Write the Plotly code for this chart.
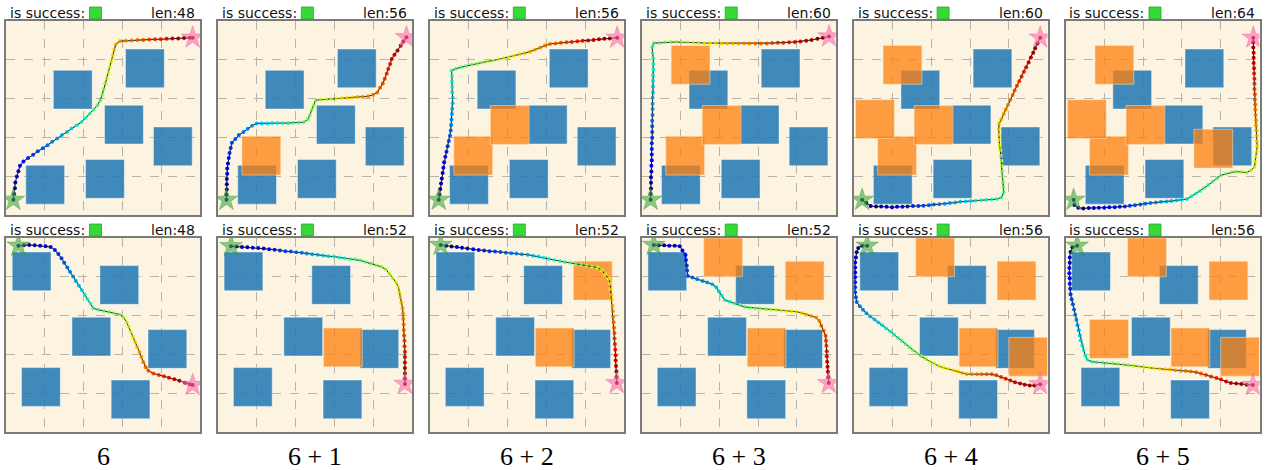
import plotly.graph_objects as go

# ---- data (grid units, 0..5 per panel) ----
blue_top = [(1.22, 2.73), (3.08, 3.28), (2.54, 1.83), (3.80, 1.27), (0.51, 0.28), (2.05, 0.43)]
orange_top = [(0.62, 1.03), (1.56, 1.82), (0.76, 3.37), (0.05, 1.97), (3.31, 1.21)]
blue_bottom = [(0.16, 3.64), (2.42, 3.29), (1.70, 1.96), (3.66, 1.64), (0.40, 0.66), (2.71, 0.34)]
orange_bottom = [(2.72, 1.68), (3.70, 3.40), (1.60, 4.00), (4.00, 1.44), (0.62, 1.90)]
obstacle_size = 1.0

n_extra = [0, 1, 2, 3, 4, 5]
column_labels = ["6", "6 + 1", "6 + 2", "6 + 3", "6 + 4", "6 + 5"]
len_top = [48, 56, 56, 60, 60, 64]
len_bottom = [48, 52, 52, 52, 56, 56]

t1_x = [0.19, 0.21, 0.23, 0.24, 0.28, 0.32, 0.36, 0.45, 0.57, 0.70, 0.82, 0.95, 1.07, 1.19, 1.32, 1.44, 1.57,
        1.69, 1.82, 1.95, 2.05, 2.16, 2.26, 2.36, 2.43, 2.48, 2.52, 2.56, 2.60, 2.64, 2.68, 2.71, 2.75, 2.79,
        2.83, 2.94, 3.09, 3.24, 3.39, 3.54, 3.69, 3.84, 3.99, 4.14, 4.29, 4.44, 4.59, 4.74, 4.81]
t1_y = [0.39, 0.54, 0.69, 0.84, 0.99, 1.13, 1.27, 1.38, 1.47, 1.55, 1.64, 1.72, 1.80, 1.89, 1.97, 2.06, 2.14,
        2.23, 2.31, 2.40, 2.50, 2.61, 2.71, 2.83, 2.96, 3.10, 3.24, 3.39, 3.53, 3.68, 3.82, 3.97, 4.11, 4.26,
        4.40, 4.48, 4.49, 4.50, 4.51, 4.51, 4.52, 4.53, 4.53, 4.54, 4.55, 4.55, 4.56, 4.57, 4.57]

t2_x = [0.22, 0.22, 0.23, 0.23, 0.23, 0.24, 0.24, 0.26, 0.28, 0.30, 0.33, 0.36, 0.45, 0.54, 0.66, 0.77, 0.88,
        1.00, 1.13, 1.27, 1.40, 1.54, 1.67, 1.81, 1.94, 2.08, 2.21, 2.32, 2.37, 2.42, 2.47, 2.52, 2.65, 2.79,
        2.92, 3.06, 3.19, 3.33, 3.46, 3.60, 3.73, 3.87, 4.00, 4.11, 4.18, 4.25, 4.30, 4.35, 4.39, 4.44, 4.48,
        4.55, 4.63, 4.71, 4.78, 4.86]
t2_y = [0.39, 0.52, 0.66, 0.79, 0.93, 1.06, 1.20, 1.33, 1.47, 1.60, 1.73, 1.86, 1.96, 2.06, 2.14, 2.22, 2.30,
        2.36, 2.36, 2.36, 2.37, 2.37, 2.37, 2.37, 2.38, 2.38, 2.39, 2.46, 2.58, 2.71, 2.83, 2.96, 2.97, 2.98,
        2.99, 3.00, 3.01, 3.02, 3.03, 3.04, 3.05, 3.06, 3.10, 3.16, 3.28, 3.39, 3.51, 3.64, 3.76, 3.89, 4.02,
        4.13, 4.24, 4.36, 4.47, 4.58]

t3_x = [0.23, 0.25, 0.27, 0.29, 0.31, 0.33, 0.35, 0.37, 0.40, 0.43, 0.46, 0.49, 0.52, 0.54, 0.55, 0.56, 0.57,
        0.58, 0.59, 0.59, 0.58, 0.58, 0.57, 0.57, 0.56, 0.67, 0.81, 0.94, 1.08, 1.22, 1.35, 1.49, 1.63, 1.77,
        1.90, 2.04, 2.17, 2.31, 2.44, 2.58, 2.71, 2.84, 2.97, 3.10, 3.24, 3.38, 3.52, 3.66, 3.80, 3.94, 4.08,
        4.22, 4.36, 4.50, 4.64, 4.83]
t3_y = [0.39, 0.53, 0.67, 0.81, 0.94, 1.08, 1.22, 1.36, 1.50, 1.63, 1.77, 1.91, 2.04, 2.18, 2.32, 2.46, 2.60,
        2.74, 2.88, 3.02, 3.16, 3.30, 3.44, 3.58, 3.72, 3.77, 3.81, 3.84, 3.88, 3.90, 3.93, 3.96, 3.98, 4.01,
        4.04, 4.07, 4.10, 4.14, 4.17, 4.21, 4.26, 4.31, 4.37, 4.41, 4.42, 4.44, 4.45, 4.46, 4.48, 4.49, 4.50,
        4.51, 4.53, 4.54, 4.55, 4.57]

t4_x = [0.23, 0.23, 0.24, 0.24, 0.24, 0.25, 0.25, 0.26, 0.26, 0.26, 0.26, 0.27, 0.27, 0.27, 0.27, 0.28, 0.28,
        0.28, 0.28, 0.29, 0.29, 0.29, 0.29, 0.30, 0.30, 0.30, 0.28, 0.27, 0.31, 0.46, 0.60, 0.75, 0.89, 1.04,
        1.18, 1.33, 1.47, 1.62, 1.76, 1.91, 2.06, 2.20, 2.35, 2.49, 2.64, 2.78, 2.93, 3.07, 3.22, 3.36, 3.51,
        3.65, 3.80, 3.95, 4.09, 4.24, 4.38, 4.53, 4.67, 4.83]
t4_y = [0.39, 0.54, 0.68, 0.83, 0.97, 1.12, 1.27, 1.41, 1.56, 1.70, 1.85, 1.99, 2.14, 2.29, 2.43, 2.58, 2.73,
        2.87, 3.02, 3.16, 3.31, 3.46, 3.60, 3.75, 3.89, 4.04, 4.18, 4.33, 4.43, 4.44, 4.45, 4.46, 4.46, 4.45,
        4.45, 4.44, 4.44, 4.43, 4.43, 4.43, 4.42, 4.42, 4.42, 4.42, 4.42, 4.42, 4.42, 4.42, 4.42, 4.43, 4.44,
        4.44, 4.45, 4.46, 4.47, 4.49, 4.51, 4.54, 4.57, 4.60]

t5_x = [0.22, 0.33, 0.44, 0.58, 0.71, 0.85, 0.99, 1.12, 1.26, 1.39, 1.53, 1.67, 1.80, 1.94, 2.07, 2.21, 2.35,
        2.48, 2.62, 2.75, 2.89, 3.02, 3.15, 3.29, 3.42, 3.56, 3.70, 3.81, 3.87, 3.86, 3.85, 3.84, 3.83, 3.82,
        3.81, 3.79, 3.78, 3.76, 3.75, 3.74, 3.74, 3.75, 3.81, 3.87, 3.92, 3.98, 4.04, 4.10, 4.15, 4.21, 4.27,
        4.33, 4.39, 4.45, 4.51, 4.57, 4.63, 4.68, 4.74, 4.81]
t5_y = [0.39, 0.31, 0.23, 0.22, 0.22, 0.21, 0.20, 0.21, 0.21, 0.22, 0.23, 0.23, 0.24, 0.25, 0.27, 0.28, 0.29,
        0.31, 0.32, 0.34, 0.35, 0.36, 0.37, 0.38, 0.39, 0.40, 0.41, 0.45, 0.58, 0.71, 0.85, 0.99, 1.12, 1.26,
        1.40, 1.53, 1.67, 1.80, 1.94, 2.07, 2.21, 2.35, 2.47, 2.60, 2.72, 2.84, 2.97, 3.09, 3.21, 3.33, 3.45,
        3.57, 3.69, 3.81, 3.93, 4.06, 4.18, 4.30, 4.42, 4.57]

t6_x = [0.21, 0.23, 0.33, 0.46, 0.60, 0.73, 0.86, 1.00, 1.13, 1.27, 1.40, 1.53, 1.66, 1.79, 1.93, 2.06, 2.19,
        2.33, 2.46, 2.60, 2.73, 2.86, 3.00, 3.13, 3.24, 3.36, 3.47, 3.58, 3.68, 3.79, 3.90, 4.00, 4.14, 4.27,
        4.40, 4.53, 4.66, 4.78, 4.87, 4.89, 4.91, 4.93, 4.94, 4.93, 4.93, 4.92, 4.91, 4.91, 4.90, 4.89, 4.89,
        4.88, 4.88, 4.87, 4.87, 4.87, 4.86, 4.86, 4.85, 4.85, 4.85, 4.84, 4.84, 4.84]
t6_y = [0.39, 0.26, 0.19, 0.17, 0.18, 0.18, 0.19, 0.19, 0.20, 0.20, 0.21, 0.22, 0.24, 0.25, 0.27, 0.29, 0.31,
        0.32, 0.34, 0.35, 0.36, 0.38, 0.39, 0.41, 0.48, 0.55, 0.62, 0.70, 0.77, 0.86, 0.94, 1.02, 1.06, 1.10,
        1.12, 1.11, 1.09, 1.15, 1.24, 1.37, 1.51, 1.64, 1.78, 1.91, 2.04, 2.18, 2.31, 2.44, 2.58, 2.71, 2.85,
        2.98, 3.11, 3.25, 3.38, 3.51, 3.65, 3.78, 3.92, 4.05, 4.18, 4.32, 4.45, 4.57]

b1_x = [0.32, 0.46, 0.60, 0.74, 0.88, 1.02, 1.15, 1.26, 1.35, 1.43, 1.50, 1.58, 1.65, 1.73, 1.80, 1.88, 1.95,
        2.03, 2.10, 2.18, 2.25, 2.38, 2.52, 2.66, 2.79, 2.93, 3.03, 3.11, 3.16, 3.22, 3.27, 3.33, 3.38, 3.44,
        3.49, 3.54, 3.60, 3.67, 3.80, 3.94, 4.07, 4.20, 4.34, 4.47, 4.61, 4.74, 4.81]
b1_y = [4.80, 4.81, 4.82, 4.81, 4.80, 4.79, 4.77, 4.69, 4.59, 4.48, 4.36, 4.24, 4.13, 4.01, 3.89, 3.77, 3.66,
        3.54, 3.42, 3.31, 3.19, 3.15, 3.12, 3.09, 3.06, 3.03, 2.95, 2.83, 2.71, 2.58, 2.45, 2.32, 2.19, 2.06,
        1.93, 1.80, 1.67, 1.58, 1.51, 1.47, 1.44, 1.40, 1.36, 1.32, 1.27, 1.23, 1.21]

b2_x = [0.34, 0.48, 0.62, 0.76, 0.90, 1.04, 1.18, 1.32, 1.46, 1.60, 1.74, 1.88, 2.02, 2.16, 2.29, 2.43, 2.57,
        2.71, 2.85, 2.99, 3.13, 3.27, 3.40, 3.54, 3.68, 3.81, 3.95, 4.08, 4.21, 4.33, 4.42, 4.50, 4.59, 4.65,
        4.68, 4.70, 4.73, 4.76, 4.77, 4.78, 4.79, 4.79, 4.80, 4.81, 4.81, 4.82, 4.82, 4.82, 4.82, 4.82, 4.82,
        4.82]
b2_y = [4.79, 4.78, 4.77, 4.76, 4.75, 4.74, 4.73, 4.71, 4.70, 4.68, 4.66, 4.65, 4.63, 4.62, 4.60, 4.58, 4.57,
        4.55, 4.53, 4.52, 4.50, 4.48, 4.46, 4.45, 4.42, 4.38, 4.34, 4.30, 4.26, 4.19, 4.08, 3.97, 3.86, 3.74,
        3.60, 3.47, 3.33, 3.19, 3.05, 2.91, 2.77, 2.63, 2.49, 2.35, 2.21, 2.07, 1.93, 1.79, 1.65, 1.51, 1.37,
        1.24]

b3_x = [0.28, 0.42, 0.56, 0.70, 0.83, 0.97, 1.12, 1.26, 1.40, 1.54, 1.68, 1.82, 1.96, 2.10, 2.23, 2.37, 2.52,
        2.66, 2.80, 2.93, 3.07, 3.21, 3.35, 3.48, 3.62, 3.76, 3.90, 4.04, 4.18, 4.32, 4.43, 4.52, 4.61, 4.65,
        4.66, 4.68, 4.69, 4.71, 4.72, 4.73, 4.74, 4.75, 4.76, 4.76, 4.77, 4.78, 4.79, 4.79, 4.80, 4.81, 4.81,
        4.82]
b3_y = [4.82, 4.80, 4.78, 4.77, 4.75, 4.73, 4.71, 4.69, 4.68, 4.66, 4.65, 4.64, 4.62, 4.61, 4.60, 4.58, 4.57,
        4.54, 4.52, 4.49, 4.46, 4.43, 4.41, 4.38, 4.36, 4.33, 4.31, 4.29, 4.26, 4.24, 4.17, 4.06, 3.95, 3.82,
        3.68, 3.54, 3.40, 3.25, 3.11, 2.97, 2.83, 2.69, 2.55, 2.41, 2.27, 2.12, 1.98, 1.84, 1.70, 1.56, 1.42,
        1.26]

b4_x = [0.31, 0.44, 0.58, 0.71, 0.85, 0.98, 1.05, 1.13, 1.14, 1.16, 1.17, 1.19, 1.31, 1.43, 1.57, 1.69, 1.82,
        1.92, 1.99, 2.07, 2.14, 2.27, 2.40, 2.53, 2.66, 2.79, 2.93, 3.06, 3.20, 3.33, 3.46, 3.60, 3.73, 3.86,
        3.99, 4.12, 4.24, 4.37, 4.50, 4.58, 4.63, 4.69, 4.74, 4.75, 4.76, 4.77, 4.77, 4.78, 4.79, 4.80, 4.81,
        4.82]
b4_y = [4.82, 4.81, 4.81, 4.80, 4.80, 4.79, 4.68, 4.56, 4.43, 4.29, 4.16, 4.02, 3.98, 3.94, 3.89, 3.85, 3.81,
        3.73, 3.62, 3.51, 3.40, 3.36, 3.31, 3.27, 3.22, 3.21, 3.19, 3.18, 3.17, 3.16, 3.15, 3.13, 3.12, 3.11,
        3.10, 3.07, 3.03, 2.99, 2.95, 2.86, 2.74, 2.61, 2.48, 2.35, 2.22, 2.08, 1.95, 1.81, 1.68, 1.55, 1.41,
        1.26]

b5_x = [0.35, 0.22, 0.12, 0.08, 0.06, 0.04, 0.04, 0.04, 0.04, 0.04, 0.04, 0.04, 0.06, 0.08, 0.16, 0.24, 0.33,
        0.43, 0.54, 0.64, 0.74, 0.84, 0.95, 1.04, 1.14, 1.24, 1.34, 1.44, 1.53, 1.63, 1.74, 1.86, 1.97, 2.08,
        2.19, 2.31, 2.43, 2.56, 2.68, 2.80, 2.92, 3.05, 3.18, 3.30, 3.43, 3.56, 3.68, 3.80, 3.92, 4.04, 4.16,
        4.29, 4.41, 4.54, 4.66, 4.81]
b5_y = [4.80, 4.80, 4.74, 4.63, 4.50, 4.37, 4.24, 4.11, 3.99, 3.86, 3.73, 3.60, 3.47, 3.35, 3.24, 3.15, 3.06,
        2.98, 2.90, 2.82, 2.75, 2.67, 2.59, 2.51, 2.43, 2.35, 2.26, 2.18, 2.10, 2.02, 1.95, 1.88, 1.82, 1.76,
        1.70, 1.66, 1.63, 1.59, 1.56, 1.52, 1.49, 1.49, 1.49, 1.49, 1.49, 1.49, 1.46, 1.42, 1.37, 1.33, 1.28,
        1.25, 1.22, 1.20, 1.20, 1.23]

b6_x = [0.30, 0.18, 0.13, 0.11, 0.11, 0.10, 0.10, 0.11, 0.11, 0.12, 0.13, 0.16, 0.19, 0.22, 0.25, 0.28, 0.31,
        0.34, 0.37, 0.39, 0.43, 0.47, 0.51, 0.56, 0.68, 0.81, 0.95, 1.08, 1.22, 1.35, 1.49, 1.62, 1.75, 1.89,
        2.02, 2.15, 2.29, 2.42, 2.56, 2.69, 2.83, 2.96, 3.10, 3.23, 3.37, 3.49, 3.62, 3.75, 3.89, 4.01, 4.14,
        4.26, 4.40, 4.53, 4.67, 4.83]
b6_y = [4.80, 4.76, 4.64, 4.50, 4.36, 4.23, 4.09, 3.96, 3.82, 3.69, 3.55, 3.42, 3.29, 3.16, 3.02, 2.89, 2.75,
        2.62, 2.49, 2.36, 2.23, 2.10, 1.97, 1.86, 1.81, 1.80, 1.79, 1.78, 1.77, 1.76, 1.74, 1.72, 1.71, 1.69,
        1.67, 1.66, 1.64, 1.63, 1.62, 1.61, 1.59, 1.58, 1.57, 1.56, 1.54, 1.51, 1.47, 1.43, 1.39, 1.35, 1.30,
        1.26, 1.25, 1.24, 1.22, 1.21]

paths_top = [(t1_x, t1_y), (t2_x, t2_y), (t3_x, t3_y), (t4_x, t4_y), (t5_x, t5_y), (t6_x, t6_y)]
paths_bottom = [(b1_x, b1_y), (b2_x, b2_y), (b3_x, b3_y), (b4_x, b4_y), (b5_x, b5_y), (b6_x, b6_y)]

# matplotlib-style "jet"
jet = [[0.0, "rgb(0,0,128)"], [0.11, "rgb(0,0,255)"], [0.125, "rgb(0,0,255)"], [0.34, "rgb(0,219,255)"],
       [0.35, "rgb(0,230,247)"], [0.375, "rgb(21,255,226)"], [0.64, "rgb(239,255,8)"],
       [0.65, "rgb(247,245,0)"], [0.66, "rgb(255,236,0)"], [0.89, "rgb(255,19,0)"],
       [0.91, "rgb(232,0,0)"], [1.0, "rgb(128,0,0)"]]

# ---- layout in pixels ----
W, H = 1267, 470
BOX = 194
lefts = [6, 217.9, 429.8, 641.7, 853.6, 1065.5]
row_tops = [21, 238]

BLUE = "rgba(31,119,180,0.85)"
ORANGE = "rgba(255,127,14,0.75)"
BG = "#fcf4e0"

fig = go.Figure()
shapes = []
annotations = []

rows = [(paths_top, blue_top, orange_top, len_top), (paths_bottom, blue_bottom, orange_bottom, len_bottom)]

for r, (paths, blues, oranges, lens) in enumerate(rows):
    for c in range(6):
        n = r * 6 + c + 1
        suffix = "" if n == 1 else str(n)
        xa, ya = "x" + suffix, "y" + suffix
        top = row_tops[r]
        x0 = lefts[c] / W
        y1 = 1 - top / H
        ax = dict(range=[0, 5], domain=[x0, x0 + BOX / W], tickvals=[1, 2, 3, 4], showticklabels=False,
                  ticks="", showgrid=True, gridcolor="#b8b4ab", griddash="dash", gridwidth=1,
                  zeroline=False, showline=True, mirror=True, linecolor="#7a7a7a", linewidth=1.5,
                  fixedrange=True)
        fig.layout["xaxis" + suffix] = dict(ax, anchor=ya)
        fig.layout["yaxis" + suffix] = dict(ax, domain=[y1 - BOX / H, y1], anchor=xa)

        for (ox, oy) in blues:
            shapes.append(dict(type="rect", xref=xa, yref=ya, x0=ox, y0=oy,
                               x1=ox + obstacle_size, y1=oy + obstacle_size,
                               fillcolor=BLUE, line=dict(color="rgba(255,255,255,0.45)", width=1),
                               layer="between"))
        for (ox, oy) in oranges[:n_extra[c]]:
            shapes.append(dict(type="rect", xref=xa, yref=ya, x0=ox, y0=oy,
                               x1=ox + obstacle_size, y1=oy + obstacle_size,
                               fillcolor=ORANGE, line=dict(color="rgba(255,235,200,0.5)", width=1),
                               layer="between"))

        px, py = paths[c]
        fig.add_trace(go.Scatter(x=px, y=py, mode="lines", xaxis=xa, yaxis=ya,
                                 line=dict(color="black", width=0.8),
                                 showlegend=False, hoverinfo="skip"))
        fig.add_trace(go.Scatter(x=px, y=py, mode="markers", xaxis=xa, yaxis=ya,
                                 marker=dict(size=4, color=list(range(len(px))), colorscale=jet,
                                             line=dict(width=0)),
                                 showlegend=False, hoverinfo="skip"))
        fig.add_trace(go.Scatter(x=px, y=py, mode="lines", xaxis=xa, yaxis=ya,
                                 line=dict(color="rgba(0,0,0,0.55)", width=0.6),
                                 showlegend=False, hoverinfo="skip"))
        fig.add_trace(go.Scatter(x=[px[0]], y=[py[0]], mode="markers", xaxis=xa, yaxis=ya,
                                 marker=dict(symbol="star", size=17, color="rgba(60,170,60,0.6)",
                                             line=dict(color="rgba(40,140,40,0.7)", width=0.5)),
                                 showlegend=False, hoverinfo="skip"))
        fig.add_trace(go.Scatter(x=[px[-1]], y=[py[-1]], mode="markers", xaxis=xa, yaxis=ya,
                                 marker=dict(symbol="star", size=17, color="rgba(255,105,175,0.6)",
                                             line=dict(color="rgba(230,80,150,0.7)", width=0.5)),
                                 showlegend=False, hoverinfo="skip"))

        # header: "is success:" + green box + len
        annotations.append(dict(text="is success:", xref=f"{xa} domain", yref=f"{ya} domain",
                                x=0.01, y=1 + 8 / BOX, xanchor="left", yanchor="middle", showarrow=False,
                                font=dict(family="DejaVu Sans", size=14, color="#111")))
        annotations.append(dict(text=f"len:{lens[c]}", xref=f"{xa} domain", yref=f"{ya} domain",
                                x=0.985, y=1 + 8 / BOX, xanchor="right", yanchor="middle", showarrow=False,
                                font=dict(family="DejaVu Sans", size=14, color="#111")))
        shapes.append(dict(type="rect", xref=f"{xa} domain", yref=f"{ya} domain",
                           x0=83.5 / BOX, x1=95.5 / BOX, y0=1 + 2 / BOX, y1=1 + 14 / BOX,
                           fillcolor="#36d936", line=dict(color="#2aa82a", width=0.8), layer="above"))

for c in range(6):
    annotations.append(dict(text=column_labels[c], xref="paper", yref="paper",
                            x=(lefts[c] + BOX / 2) / W, y=(H - 456) / H, xanchor="center", yanchor="middle",
                            showarrow=False, font=dict(family="Liberation Serif", size=26, color="black")))

fig.update_layout(width=W, height=H, margin=dict(l=0, r=0, t=0, b=0),
                  paper_bgcolor="white", plot_bgcolor=BG,
                  shapes=shapes, annotations=annotations)

# the page's default body margin would push the figure off by 8px
fig.write_html("out.html", config={"displayModeBar": False},
               post_script="document.body.style.margin='0px';")
